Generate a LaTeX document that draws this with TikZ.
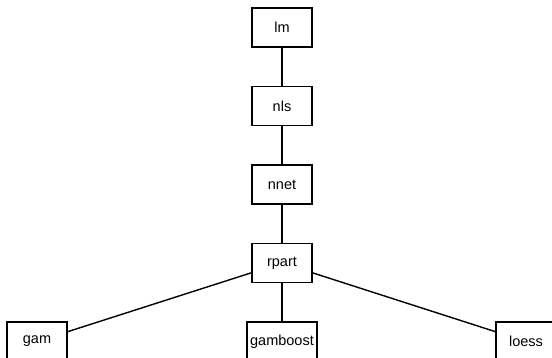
\documentclass[tikz,border=0pt]{standalone}
\usepackage{fontspec}
\setmainfont{Liberation Sans}
\begin{document}
\begin{tikzpicture}[x=1pt,y=-1pt,
  pkg/.style={draw=black, line width=1.5pt, fill=white, minimum width=60pt,
    minimum height=39pt, inner xsep=3pt, inner ysep=1pt,
    font=\fontsize{14.5}{16}\selectfont},
  link/.style={draw=black, line width=1.4pt}]
  \useasboundingbox (0,0) rectangle (552,358);
  \clip (0,0) rectangle (552,358);
  % chain of packages
  \node[pkg] (lm)    at (282,27.5)  {lm};
  \node[pkg] (nls)   at (282,106)   {nls};
  \node[pkg] (nnet)  at (282,184.5) {nnet};
  \node[pkg] (rpart) at (282,263)   {rpart};
  % bottom row
  \node[pkg] (gam)      at (37,341.5)  {gam};
  \node[pkg] (gamboost) at (282,341.5) {gamboost};
  \node[pkg] (loess)    at (526,341.5) {loess};
  % connectors
  \draw[link] (lm) -- (nls);
  \draw[link] (nls) -- (nnet);
  \draw[link] (nnet) -- (rpart);
  \draw[link] (rpart) -- (gam);
  \draw[link] (rpart) -- (gamboost);
  \draw[link] (rpart) -- (loess);
\end{tikzpicture}
\end{document}
